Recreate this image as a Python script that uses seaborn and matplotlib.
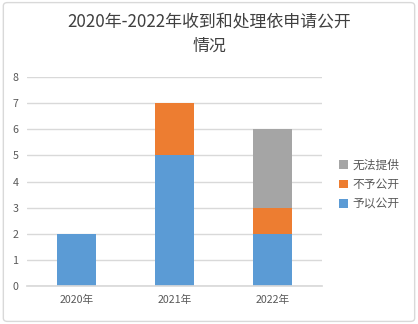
import matplotlib
matplotlib.use("Agg")
import matplotlib.pyplot as plt
import seaborn as sns
import pandas as pd
import numpy as np
from matplotlib.patches import FancyBboxPatch

years = ["2020年", "2021年", "2022年"]
yiyi_gongkai = [2, 5, 2]      # 予以公开
buyu_gongkai = [0, 2, 1]      # 不予公开
wufa_tigong = [0, 0, 3]       # 无法提供
yticks = [0, 1, 2, 3, 4, 5, 6, 7, 8]

sns.set_theme(style="white")
plt.rcParams['font.family'] = ['Noto Sans CJK SC', 'DejaVu Sans']

fig = plt.figure(figsize=(4.18, 3.24), dpi=100)
ax = fig.add_axes([0.065, 0.117, 0.705, 0.645])

c_blue = "#5B9BD5"
c_orange = "#ED7D31"
c_gray = "#A5A5A5"

df = pd.DataFrame({"year": years, "a": yiyi_gongkai, "b": buyu_gongkai, "c": wufa_tigong})
b1 = np.array(yiyi_gongkai)
b2 = b1 + np.array(buyu_gongkai)
b3 = b2 + np.array(wufa_tigong)

sns.barplot(data=df.assign(t=b3), x="year", y="t", color=c_gray, width=0.4, ax=ax,
            saturation=1, label="无法提供", linewidth=0)
sns.barplot(data=df.assign(t=b2), x="year", y="t", color=c_orange, width=0.4, ax=ax,
            saturation=1, label="不予公开", linewidth=0)
sns.barplot(data=df.assign(t=b1), x="year", y="t", color=c_blue, width=0.4, ax=ax,
            saturation=1, label="予以公开", linewidth=0)
if ax.get_legend() is not None:
    ax.get_legend().remove()

ax.set_ylim(0, 8)
ax.set_xlim(-0.5, 2.5)
ax.set_yticks(yticks)
ax.yaxis.grid(True, color="#D9D9D9", linewidth=1)
ax.set_axisbelow(True)
for s in ["top", "right", "left"]:
    ax.spines[s].set_visible(False)
ax.spines["bottom"].set_color("#D9D9D9")
ax.set_xlabel("")
ax.set_ylabel("")
ax.tick_params(axis="both", labelsize=7.7, colors="#595959", length=0, pad=6)

h, l = ax.get_legend_handles_labels()
leg = fig.legend(h, l, loc="center left", bbox_to_anchor=(0.812, 0.43), frameon=False,
                 fontsize=8.5, handlelength=0.7, handleheight=0.7, handletextpad=0.4,
                 labelspacing=0.55, labelcolor="#595959", borderpad=0, borderaxespad=0)

fig.text(0.5, 0.93, "2020年-2022年收到和处理依申请公开", ha="center", va="center",
         fontsize=12.2, color="#404040")
fig.text(0.5, 0.86, "情况", ha="center", va="center", fontsize=12.2, color="#404040")

border = FancyBboxPatch((0.008, 0.008), 0.984, 0.984, boxstyle="round,pad=0,rounding_size=0.01",
                        transform=fig.transFigure, fill=False, edgecolor="#D9D9D9", linewidth=1)
fig.patches.append(border)

fig.savefig("out.png", dpi=100)
